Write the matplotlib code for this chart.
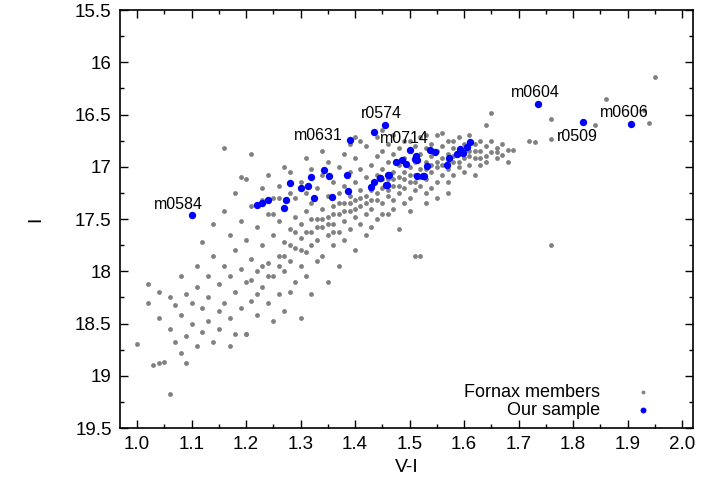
import numpy as np
import matplotlib.pyplot as plt
from matplotlib.ticker import MultipleLocator

plt.rcParams['font.family'] = ['Liberation Sans', 'DejaVu Sans']

# Fornax members as (V-I, I) pairs
fornax_pts = [
    # blue end, faint
    (1.00, 18.70), (1.02, 18.30), (1.02, 18.12), (1.03, 18.90), (1.04, 18.20), (1.04, 18.45),
    (1.04, 18.88), (1.05, 18.87), (1.06, 19.17), (1.06, 18.25), (1.06, 18.55), (1.07, 18.32),
    (1.07, 18.68), (1.08, 18.05), (1.08, 18.42), (1.08, 18.78), (1.09, 18.22), (1.09, 18.62),
    (1.09, 18.88), (1.10, 18.30), (1.10, 18.50), (1.11, 17.95), (1.11, 18.15), (1.11, 18.72),
    (1.12, 17.72), (1.12, 18.35), (1.12, 18.58), (1.13, 18.05), (1.13, 18.25), (1.13, 18.48),
    (1.14, 17.55), (1.14, 17.85), (1.14, 18.68), (1.15, 18.12), (1.15, 18.38), (1.15, 18.55),
    (1.16, 16.82), (1.16, 17.42), (1.16, 17.95), (1.16, 18.30), (1.17, 17.65), (1.17, 18.05),
    (1.17, 18.45), (1.17, 18.72), (1.18, 17.25), (1.18, 17.80), (1.18, 18.20), (1.18, 18.60),
    (1.19, 17.52), (1.19, 17.98), (1.19, 18.35), (1.20, 17.12), (1.20, 17.70), (1.20, 18.10),
    (1.20, 18.60), (1.21, 17.38), (1.21, 17.88), (1.21, 18.28), (1.22, 17.58), (1.22, 18.00),
    (1.22, 18.42), (1.23, 17.20), (1.23, 17.75), (1.23, 18.15), (1.24, 17.45), (1.24, 17.92),
    (1.24, 18.30), (1.25, 17.30), (1.25, 17.65), (1.25, 18.05), (1.25, 18.48), (1.26, 17.18),
    (1.26, 17.52), (1.26, 17.85), (1.26, 18.22), (1.27, 17.40), (1.27, 17.72), (1.27, 18.00),
    (1.27, 18.38), (1.28, 17.05), (1.28, 17.60), (1.28, 17.90), (1.28, 18.20), (1.29, 17.30),
    (1.29, 17.48), (1.29, 17.78), (1.29, 18.10), (1.30, 17.15), (1.30, 17.55), (1.30, 17.68),
    (1.30, 17.95), (1.30, 18.45), (1.31, 17.25), (1.31, 17.42), (1.31, 17.82), (1.31, 18.05),
    (1.32, 17.02), (1.32, 17.35), (1.32, 17.62), (1.32, 17.75), (1.32, 18.22), (1.33, 17.20),
    (1.33, 17.50), (1.33, 17.70), (1.33, 17.90), (1.34, 17.08), (1.34, 17.40), (1.34, 17.58),
    (1.34, 17.85), (1.35, 16.95), (1.35, 17.28), (1.35, 17.48), (1.35, 17.65), (1.35, 18.10),
    (1.36, 17.15), (1.36, 17.38), (1.36, 17.55), (1.36, 17.75), (1.37, 17.00), (1.37, 17.25),
    (1.37, 17.45), (1.37, 17.62), (1.37, 17.95), (1.38, 16.88), (1.38, 17.18), (1.38, 17.35),
    (1.38, 17.52), (1.38, 17.70), (1.39, 17.05), (1.39, 17.28), (1.39, 17.42), (1.39, 17.60),
    (1.40, 16.92), (1.40, 17.15), (1.40, 17.32), (1.40, 17.48), (1.40, 17.80), (1.41, 17.02),
    (1.41, 17.22), (1.41, 17.38), (1.41, 17.55), (1.42, 16.80), (1.42, 17.10), (1.42, 17.28),
    (1.42, 17.45), (1.42, 17.65), (1.43, 16.98), (1.43, 17.18), (1.43, 17.32), (1.43, 17.40),
    (1.44, 16.72), (1.44, 16.90), (1.44, 17.08), (1.44, 17.25), (1.44, 17.50), (1.45, 16.85),
    (1.45, 17.02), (1.45, 17.20), (1.45, 17.35), (1.46, 16.78), (1.46, 16.95), (1.46, 17.12),
    (1.46, 17.28), (1.46, 17.45), (1.47, 16.88), (1.47, 17.05), (1.47, 17.18), (1.47, 17.32),
    (1.48, 16.82), (1.48, 16.98), (1.48, 17.10), (1.48, 17.25), (1.48, 17.60), (1.49, 16.75),
    (1.49, 16.92), (1.49, 17.05), (1.49, 17.20), (1.50, 16.85), (1.50, 17.00), (1.50, 17.15),
    (1.50, 17.30), (1.51, 16.80), (1.51, 16.95), (1.51, 17.08), (1.51, 17.22), (1.52, 16.72),
    (1.52, 16.88), (1.52, 17.02), (1.52, 17.18), (1.52, 17.85), (1.53, 16.82), (1.53, 16.95),
    (1.53, 17.12), (1.53, 17.25), (1.54, 16.78), (1.54, 16.90), (1.54, 17.05), (1.54, 17.20),
    (1.55, 16.70), (1.55, 16.85), (1.55, 17.00), (1.55, 17.15), (1.56, 16.80), (1.56, 16.92),
    (1.56, 17.08), (1.57, 16.75), (1.57, 16.88), (1.57, 17.02), (1.57, 17.15), (1.58, 16.82),
    (1.58, 16.95), (1.58, 17.08), (1.59, 16.72), (1.59, 16.88), (1.59, 17.00), (1.60, 16.78),
    (1.60, 16.92), (1.60, 17.05), (1.61, 16.70), (1.61, 16.85), (1.61, 16.98), (1.62, 16.78),
    (1.62, 16.92), (1.62, 17.08), (1.63, 16.75), (1.63, 16.85), (1.63, 16.98), (1.64, 16.60),
    (1.64, 16.80), (1.64, 16.90), (1.65, 16.49), (1.65, 16.75), (1.65, 16.86), (1.66, 16.82),
    (1.66, 16.92), (1.67, 16.78), (1.67, 16.89), (1.68, 16.84), (1.68, 16.95), (1.69, 16.84),
    (1.72, 16.75), (1.73, 16.76), (1.76, 16.73), (1.76, 16.54), (1.84, 16.60), (1.86, 16.35),
    (1.93, 16.46), (1.94, 16.58), (1.95, 16.14), (1.76, 17.75), (1.51, 17.85), (1.20, 18.60),
    # extra density in the ridge
    (1.42, 17.35), (1.43, 17.22), (1.44, 17.32), (1.45, 17.12), (1.46, 17.22), (1.47, 17.12),
    (1.48, 17.18), (1.49, 17.12), (1.50, 17.08), (1.51, 17.15), (1.52, 17.10), (1.53, 17.02),
    (1.54, 16.98), (1.55, 16.95), (1.56, 16.98), (1.57, 16.95), (1.58, 16.90), (1.59, 16.95),
    (1.60, 16.85), (1.61, 16.90), (1.62, 16.85), (1.63, 16.92), (1.64, 16.95), (1.66, 16.86),
    (1.36, 17.45), (1.37, 17.35), (1.38, 17.42), (1.39, 17.35), (1.40, 17.40), (1.41, 17.30),
    (1.33, 17.58), (1.34, 17.50), (1.35, 17.55), (1.36, 17.62), (1.31, 17.62), (1.30, 17.80),
    (1.28, 17.75), (1.27, 17.85), (1.26, 17.95), (1.24, 18.05), (1.23, 17.95), (1.22, 18.22),
    (1.21, 18.08), (1.29, 17.62), (1.32, 17.50), (1.39, 16.78), (1.40, 16.72), (1.41, 16.75),
    (1.45, 16.65), (1.47, 16.70), (1.50, 16.75), (1.53, 16.70), (1.56, 16.68), (1.58, 16.75),
    (1.34, 16.85), (1.31, 16.92), (1.27, 17.00), (1.24, 17.08), (1.19, 17.10), (1.21, 16.88),
    (1.23, 17.32), (1.25, 17.45), (1.26, 17.30), (1.28, 17.25), (1.43, 17.58), (1.45, 17.45),
    (1.47, 17.40), (1.49, 17.35), (1.50, 17.42), (1.53, 17.35), (1.55, 17.30), (1.57, 17.25),
]

# our sample (V-I, I)
sample_vi = [
    1.100, 1.221, 1.230, 1.241, 1.270, 1.273, 1.281, 1.300, 1.314, 1.320, 1.325, 1.343, 1.352, 1.357,
    1.385, 1.387, 1.390, 1.435, 1.455, 1.429, 1.435, 1.445, 1.457, 1.461, 1.475, 1.486, 1.494, 1.500,
    1.510, 1.513, 1.525, 1.533, 1.512, 1.514, 1.527, 1.538, 1.547, 1.572, 1.568, 1.588, 1.593, 1.599,
    1.606, 1.611, 1.446, 1.462, 1.458, 1.735, 1.818, 1.906,
]
sample_i = [
    17.46, 17.37, 17.35, 17.32, 17.39, 17.32, 17.16, 17.20, 17.18, 17.10, 17.30, 17.03, 17.09, 17.29,
    17.08, 17.23, 16.74, 16.67, 16.60, 17.19, 17.15, 17.11, 17.17, 17.08, 16.95, 16.94, 16.97, 16.84,
    16.93, 17.09, 17.09, 16.99, 16.90, 16.94, 17.09, 16.84, 16.86, 16.92, 16.98, 16.88, 16.83, 16.87,
    16.81, 16.76, 17.11, 17.08, 17.17, 16.40, 16.57, 16.59,
]

names = ['m0584', 'm0631', 'r0574', 'm0714', 'm0604', 'r0509', 'm0606']
name_idx = [0, 16, 18, 17, 47, 48, 49]
name_offset = [(-27, 4), (-40, 0), (-17, 5), (4, -8), (-19, 5), (-19, -14), (-22, 5)]

fornax_vi = [p[0] for p in fornax_pts]
fornax_i = [p[1] for p in fornax_pts]

fig = plt.figure(figsize=(7.11, 4.9), dpi=100)
ax = fig.add_axes([120 / 711, 62 / 490, 573 / 711, 418 / 490])

ax.scatter(fornax_vi, fornax_i, s=12, color='#808080', linewidths=0, label='Fornax members')
ax.scatter(sample_vi, sample_i, s=28, color='#0000ff', linewidths=0, label='Our sample')

for n, k, (dx, dy) in zip(names, name_idx, name_offset):
    ax.annotate(n, (sample_vi[k], sample_i[k]), xytext=(dx, dy), textcoords='offset points',
                fontsize=11.5)

ax.set_xlim(1 - 17 / 545, 2 + 11 / 545)
ax.set_ylim(19.5, 15.5)
ax.xaxis.set_major_locator(MultipleLocator(0.1))
ax.xaxis.set_minor_locator(MultipleLocator(0.05))
ax.yaxis.set_major_locator(MultipleLocator(0.5))
ax.yaxis.set_minor_locator(MultipleLocator(0.25))
ax.xaxis.set_major_formatter(plt.FuncFormatter(lambda v, p: f'{v:.1f}'))
ax.yaxis.set_major_formatter(plt.FuncFormatter(lambda v, p: f'{v:g}'))
ax.tick_params(which='both', direction='in', top=True, right=True, labelsize=13.5, width=1)
ax.tick_params(which='major', length=6, pad=6)
ax.tick_params(which='minor', length=3)
for s in ax.spines.values():
    s.set_linewidth(1.2)
ax.set_xlabel('V-I', fontsize=14, labelpad=4)
ax.set_ylabel('I', fontsize=14, labelpad=22)

ax.legend(loc='lower right', bbox_to_anchor=(0.96, 0.0), frameon=False, markerfirst=False,
          fontsize=13, handletextpad=1.4, labelspacing=0.05, borderaxespad=0.1, markerscale=0.8)

fig.savefig('out.png', dpi=100)
